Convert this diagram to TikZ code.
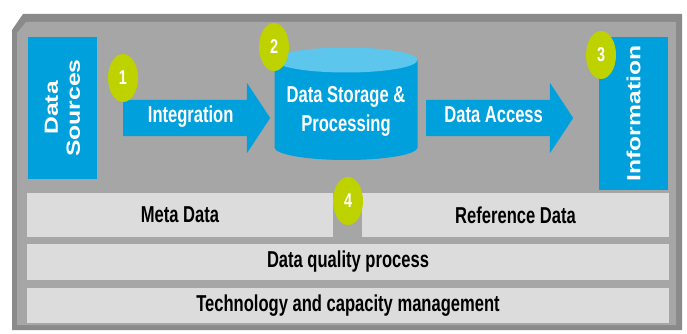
\documentclass[tikz,border=0pt]{standalone}
\usepackage{fontspec}
\setmainfont{Liberation Sans}
\newfontfamily\narrowfont[FakeStretch=0.72]{Liberation Sans}
\newfontfamily\widefont[FakeStretch=1.3]{Liberation Sans}
\usepackage{xcolor}
\usepackage{tikz}
\usetikzlibrary{shapes.geometric,shapes.arrows}
\definecolor{dwblue}{RGB}{0,160,220}
\definecolor{dwlight}{RGB}{92,198,236}
\definecolor{dwgreen}{RGB}{190,210,0}
\definecolor{dwframe}{RGB}{138,138,138}
\definecolor{dwgray}{RGB}{166,166,166}
\definecolor{dwpale}{RGB}{220,220,220}
\tikzstyle{endbox}=[rectangle,fill=dwblue,text=white,rotate=90,align=center,inner sep=0pt,font=\widefont\bfseries\fontsize{19}{22}\selectfont]
\tikzstyle{flow}=[single arrow,fill=dwblue,text=white,anchor=west,minimum height=147pt,text height=12pt,text depth=4pt,inner ysep=10pt,single arrow head extend=17pt,single arrow tip angle=113,font=\narrowfont\bfseries\fontsize{23}{26}\selectfont]
\tikzstyle{badge}=[ellipse,fill=dwgreen,text=white,minimum width=30pt,minimum height=48pt,inner sep=0pt,font=\narrowfont\bfseries\fontsize{20}{20}\selectfont]
\tikzstyle{layer}=[rectangle,fill=dwpale,text=black,inner sep=0pt,font=\narrowfont\bfseries\fontsize{23}{26}\selectfont]

\begin{document}
\begin{tikzpicture}[x=1pt,y=-1pt]
        \useasboundingbox (0,0) rectangle (687,334);
        \fill [white] (0,0) rectangle (687,334);
        % frame
        \fill [dwframe] (12,30) -- (23,14) -- (682,14) -- (682,330) -- (12,330) -- cycle;
        \fill [dwgray] (17,33) -- (26,22) -- (676,22) -- (676,325) -- (17,325) -- cycle;
        % ends
        \node at (62.5,108) [endbox,minimum width=142pt,minimum height=69pt] (src) {Data\\Sources};
        \node at (633.5,113.5) [endbox,minimum width=153pt,minimum height=69pt] (info) {Information};
        % store
        \fill [dwblue] (274.5,60) -- (274.5,147.5) arc [start angle=180,end angle=0,x radius=71.5,y radius=12.5] -- (417.5,60) -- cycle;
        \fill [dwlight] (346,60) ellipse [x radius=71.5,y radius=12.5];
        \node at (346,111) [text=white,align=center,inner sep=0pt,font=\narrowfont\bfseries\fontsize{23}{29}\selectfont] (store) {Data Storage \&\\Processing};
        % flows
        \node at (123,118) [flow] (integ) {Integration};
        \node at (426,118) [flow] (access) {Data Access};
        % layers
        \node at (180,215) [layer,minimum width=306pt,minimum height=44pt] (meta) {Meta Data};
        \node at (515.5,215) [layer,minimum width=307pt,minimum height=44pt] (ref) {Reference Data};
        \node at (348,262) [layer,minimum width=642pt,minimum height=36pt] (quality) {Data quality process};
        \node at (348,305.5) [layer,minimum width=642pt,minimum height=35pt] (tech) {Technology and capacity management};
        % badges
        \node at (123,78) [badge] (b1) {1};
        \node at (274,47) [badge] (b2) {2};
        \node at (601,55) [badge] (b3) {3};
        \node at (348,201) [badge] (b4) {4};
      \end{tikzpicture}
\end{document}
